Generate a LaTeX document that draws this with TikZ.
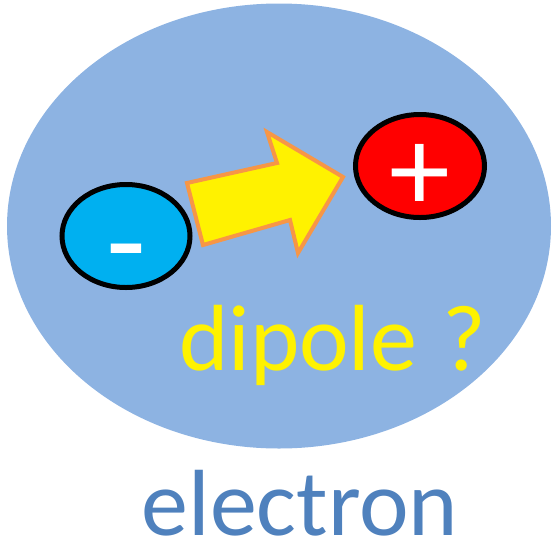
\documentclass[tikz,border=0pt]{standalone}
\usepackage{fontspec}
\setmainfont{Carlito}
\usetikzlibrary{shapes.geometric}
\definecolor{cellblue}{HTML}{8DB3E2}
\definecolor{negblue}{HTML}{00B0F0}
\definecolor{arroworange}{HTML}{F79646}
\definecolor{labelblue}{HTML}{4F81BD}

\begin{document}
\begin{tikzpicture}[
  x=1pt, y=-1pt,
  charge/.style={ellipse, draw=black, line width=5pt, inner sep=0pt},
  sign/.style={text=white, inner sep=0pt},
  bigtext/.style={font=\fontsize{94}{94}\selectfont, inner sep=0pt, text depth=0pt}
]
\useasboundingbox (0,0) rectangle (552,558);
\node[ellipse, fill=cellblue, inner sep=0pt, minimum width=544pt, minimum height=445pt] (cell) at (279,226) {};
\node[charge, fill=negblue, minimum width=128pt, minimum height=103pt] (neg) at (126,236) {};
\node[charge, fill=red, minimum width=129pt, minimum height=103pt] (pos) at (420,166) {};
\node[sign, font=\fontsize{130}{130}\selectfont] (minus) at (126,265) {-};
\node[sign, font=\fontsize{122}{122}\selectfont] (plus) at (420,178) {+};
% block arrow
\draw[draw=arroworange, fill=yellow, line width=4pt, line join=miter]
  (187,183) -- (277,163) -- (267,132) -- (343,177) -- (298,253) -- (290,220) -- (203,245) -- cycle;
\node[bigtext, text=yellow, anchor=base west] (dipole) at (179,370) {dipole \hspace{4pt}?};
\node[bigtext, text=labelblue, anchor=base] (label) at (300,535) {electron};
\end{tikzpicture}
\end{document}
